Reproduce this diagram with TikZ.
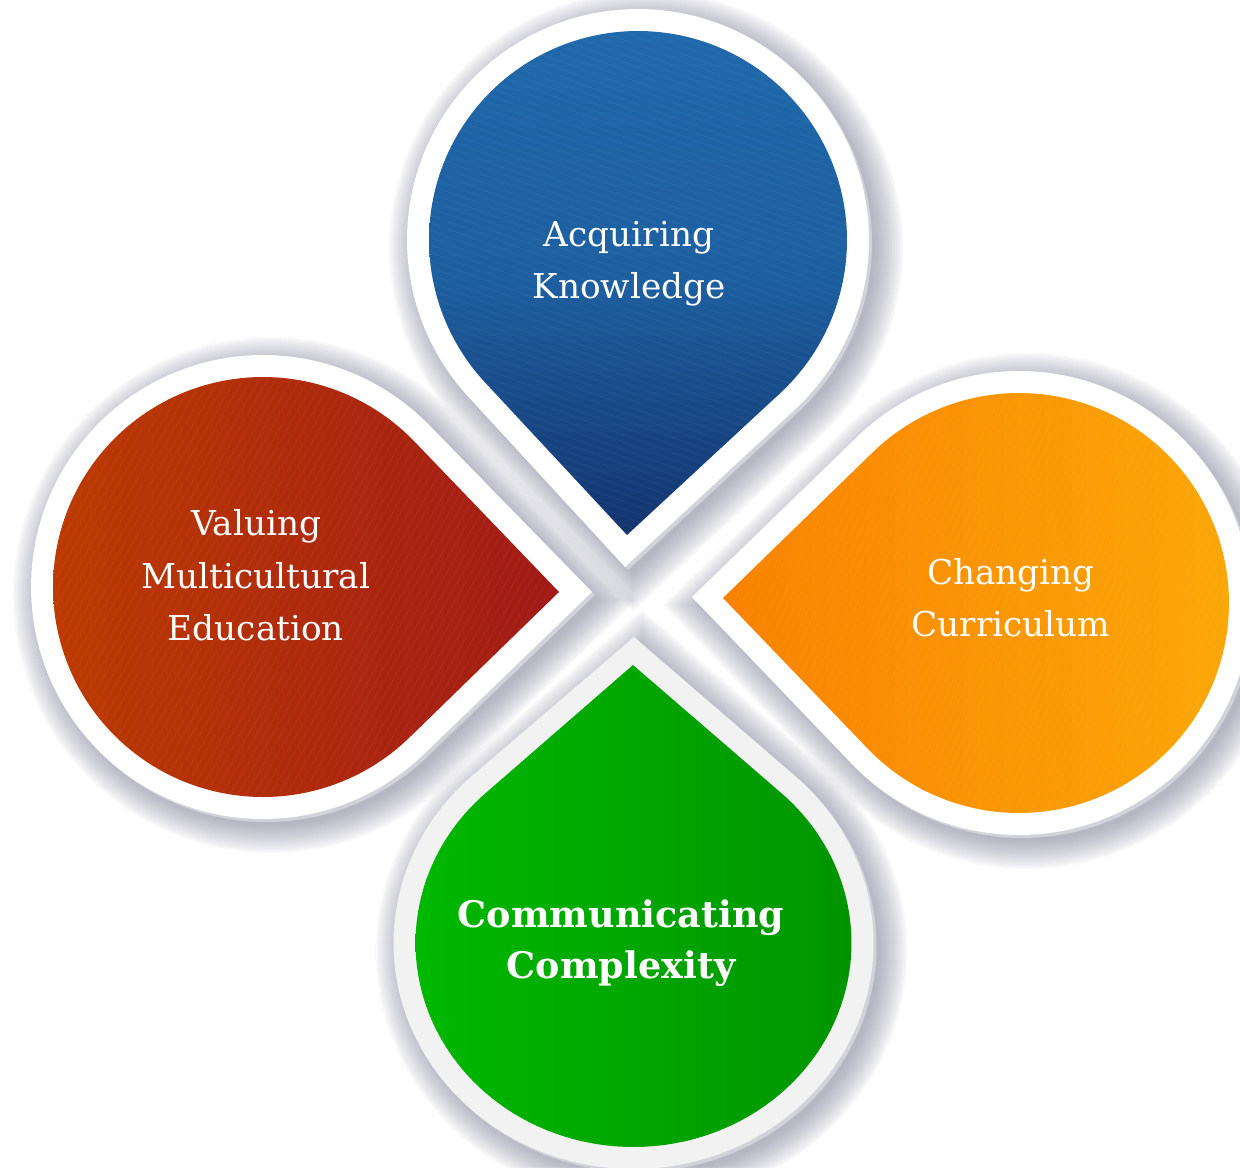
\documentclass[tikz,border=0pt]{standalone}
\usepackage{fontspec}
\setmainfont{DejaVu Serif}
\definecolor{bluetop}{HTML}{2069AB}
\definecolor{bluebot}{HTML}{13346F}
\definecolor{redL}{HTML}{BC3B02}
\definecolor{redR}{HTML}{A11A17}
\definecolor{orL}{HTML}{F98200}
\definecolor{orR}{HTML}{FBA708}
\definecolor{grL}{HTML}{00B800}
\definecolor{grR}{HTML}{019400}
\definecolor{shadowc}{HTML}{8A8AA2}
\definecolor{edgec}{HTML}{D2D2DA}
\definecolor{greyborder}{HTML}{F2F2F2}
% #1 options, #2 cx, #3 cy, #4 x radius, #5 y radius, #6 tip x, #7 tip y
\newcommand{\drop}[7]{%
  \pgfmathsetmacro\qx{((#6)-(#2))/(#4)}%
  \pgfmathsetmacro\qy{((#7)-(#3))/(#5)}%
  \pgfmathsetmacro\qd{sqrt(\qx*\qx+\qy*\qy)}%
  \pgfmathsetmacro\qb{atan2(\qy,\qx)}%
  \pgfmathsetmacro\qf{acos(1/\qd)}%
  \pgfmathsetmacro\phA{\qb+\qf}%
  \pgfmathsetmacro\phB{\qb+360-\qf}%
  \path[#1] (#6,#7) --
    plot[domain=\phA:\phB, samples=160, variable=\t]
      ({(#2)+(#4)*cos(\t)},{(#3)+(#5)*sin(\t)}) -- cycle;}
\newcommand{\stripes}[3]{% cx cy angle
  \begin{scope}[shift={(#1,#2)}, rotate=#3]
    \foreach \s in {-330,-323,...,330}{\draw[stripe] (-340,\s) -- (340,\s);}
  \end{scope}}
\begin{document}
\begin{tikzpicture}[x=0.02cm,y=0.02cm,
  lbl/.style={text=white, align=center, inner sep=0pt, font=\fontsize{19.5}{29.8}\selectfont},
  lblb/.style={text=white, align=center, inner sep=0pt, font=\fontsize{20.8}{28.9}\selectfont\bfseries},
  shadowlayer/.style={fill=shadowc, opacity=0.055},
  edgelayer/.style={fill=edgec},
  stripe/.style={draw=white, opacity=0.05, line width=0.3pt}]
\clip (0,0) rectangle (1240,-1167);
\fill[white] (0,0) rectangle (1240,-1167);
% soft shadows
\foreach \k in {-2,0,...,26}{
  \drop{shadowlayer}{646}{-248}{231+\k}{231+\k}{633}{-575-1.414*\k}
  \drop{shadowlayer}{271}{-595}{232+\k}{232+\k}{600+1.414*\k}{-600}
  \drop{shadowlayer}{1027}{-611}{232+\k}{232+\k}{700-1.414*\k}{-605}
  \drop{shadowlayer}{641.5}{-951}{240+\k}{226+\k}{642}{-645+1.354*\k}
}
% crisp edges
\drop{edgelayer}{641}{-243}{231}{231}{628}{-570}
\drop{edgelayer}{266}{-590}{232}{232}{595}{-595}
\drop{edgelayer}{1022}{-606}{232}{232}{695}{-600}
\drop{edgelayer}{636.5}{-946}{240}{226}{637}{-640}
% outer borders
\drop{fill=white}{638}{-240}{231}{231}{625}{-567}
\drop{fill=white}{263}{-587}{232}{232}{592}{-592}
\drop{fill=white}{1019}{-603}{232}{232}{692}{-597}
\drop{fill=greyborder}{633.5}{-943}{240}{226}{634}{-637}
% coloured drops
\drop{top color=bluetop, bottom color=bluebot, middle color=bluetop!80!bluebot}{638}{-240}{209}{209}{627}{-535}
\begin{scope}
  \drop{clip}{638}{-240}{209}{209}{627}{-535}
  \stripes{638}{-260}{-20}
\end{scope}
\drop{left color=redL, right color=redR}{263}{-587}{210}{210}{559}{-592}
\begin{scope}
  \drop{clip}{263}{-587}{210}{210}{559}{-592}
  \stripes{300}{-587}{60}
\end{scope}
\drop{left color=orL, right color=orR}{1019}{-603}{210}{210}{723}{-598}
\begin{scope}
  \drop{clip}{1019}{-603}{210}{210}{723}{-598}
  \stripes{980}{-603}{65}
\end{scope}
\drop{left color=grL, right color=grR}{633.5}{-943}{218}{204}{633}{-665}
% labels
\node[lbl] (ak) at (629,-264) {Acquiring\\Knowledge};
\node[lbl] (vme) at (256,-575.5) {Valuing\\Multicultural\\Education};
\node[lbl] (cc) at (1011,-598) {Changing\\Curriculum};
\node[lblb] (ccx) at (621,-943.5) {Communicating\\Complexity};
\end{tikzpicture}
\end{document}
